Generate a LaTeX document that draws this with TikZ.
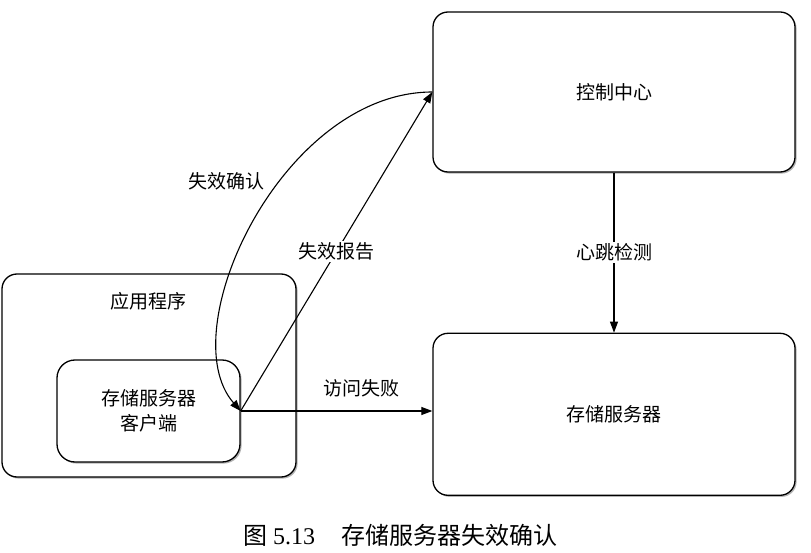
\documentclass[tikz,border=0pt]{standalone}
\usepackage{fontspec}
\setmainfont{Liberation Serif}
\newfontfamily\cjk{Noto Sans CJK SC}
\usetikzlibrary{arrows.meta,positioning,shadows}

\begin{document}
\begin{tikzpicture}[
  x=1pt, y=-1pt,
  box/.style={draw, line width=1.3pt, rounded corners=15pt, align=center, minimum width=362pt, minimum height=160pt, fill=white, drop shadow={shadow xshift=1.6pt, shadow yshift=-1.6pt, opacity=0.6}},
  arrow/.style={-{Triangle[length=11pt, width=8pt]}, line width=1.1pt},
  lbl/.style={fill=white, inner sep=2pt},
  every node/.style={font=\cjk\fontsize{19}{25}\selectfont}
]
\useasboundingbox (0,0) rectangle (811,553);

\node[box] (ctrl) at (614,92) {控制中心};
\node[box, below=160pt of ctrl, minimum height=162pt] (server) {存储服务器};

\node[box, minimum width=294pt, minimum height=203pt] (app) at (149,375.5) {};
\node[box, minimum width=183pt, minimum height=102pt, rounded corners=18pt] (client) at (148.5,411) {存储服务器\\客户端};
\node[above=46pt of client] (applbl) {应用程序};

\draw[arrow] (client.east) -- node[pos=0.63, above=10pt] (failacc) {访问失败} (client.east -| server.west);
\draw[arrow] (client.east) -- node[lbl] (failrep) {失效报告} (ctrl.west);
\draw[arrow] (ctrl.west) .. controls +(-150,0) and +(-70,-80) .. node[pos=0.4, left=12pt] (failack) {失效确认} (client.east);
\draw[arrow] (ctrl.south) -- node[lbl] (hb) {心跳检测} (server.north);

\node[font=\fontsize{24}{28}\selectfont] (cap) at (400,535) {{\cjk 图} 5.13\hspace{26pt}{\cjk 存储服务器失效确认}};
\end{tikzpicture}
\end{document}
